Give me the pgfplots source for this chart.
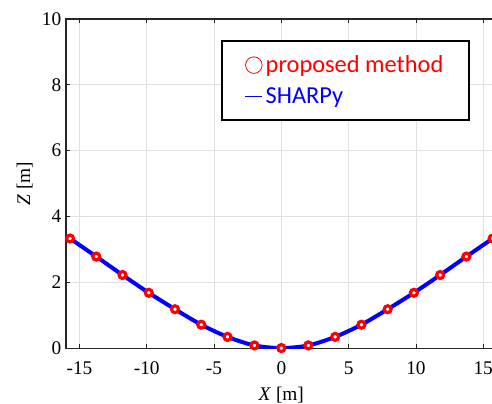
\documentclass[border=0pt]{standalone}
\usepackage{fontspec}
\setmainfont{Liberation Serif}
\newfontfamily\legfont{Carlito}
\usepackage{pgfplots}
\usepackage{pgfplotstable}
\pgfplotsset{compat=1.18}

% sampled shape: x [m], z [m]
\pgfplotstableread{
x      z
-15.7  3.33
-13.75 2.78
-11.8  2.22
-9.85  1.68
-7.9   1.18
-5.95  0.71
-4.0   0.34
-2.0   0.08
0.0    0.00
2.0    0.08
4.0    0.34
5.95   0.71
7.9    1.18
9.85   1.68
11.8   2.22
13.75  2.78
15.7   3.33
}\shape

\begin{document}
\begin{tikzpicture}
\begin{axis}[
name=ax,
scale only axis, width=323pt, height=246.8pt,
xmin=-16, xmax=16, ymin=0, ymax=10,
xtick={-15,-10,-5,0,5,10,15}, xticklabels={-15,-10,-5,0,5,10,15},
ytick={0,2,4,6,8,10}, yticklabels={0,2,4,6,8,10},
tick align=inside, major tick length=3pt,
grid=major, grid style={color=black!12, line width=0.6pt},
axis line style={black!85, line width=0.8pt},
tick style={black!85, line width=0.6pt},
ticklabel style={font=\fontsize{14.5}{17}\selectfont},
xticklabel style={yshift=-7pt},
label style={font=\fontsize{14.5}{17}\selectfont},
xlabel={\textit{X} [m]}, ylabel={\textit{Z} [m]},
xlabel style={yshift=-2pt},
legend style={at={(rel axis cs:0.36,0.936)}, anchor=north west,
  draw=black, line width=1.4pt, fill=white,
  font=\legfont\fontsize{18.3}{21}\selectfont,
  cells={anchor=west}, inner xsep=17pt, inner ysep=9pt, row sep=5.5pt},
]
\addlegendimage{legend image code/.code={\draw[red, line width=0.6pt] (6.4pt,0pt) circle (6.2pt);}}
\addlegendentry[text=red]{proposed method}
\addlegendimage{legend image code/.code={\draw[draw=blue, line width=1pt] (0pt,0pt) -- (12.8pt,0pt);}}
\addlegendentry[text=blue]{SHARPy}
\addplot[blue, line width=3pt, smooth, forget plot] table {\shape};
\addplot[only marks, mark=*, mark size=2.6pt,
  mark options={fill=white, draw=red, line width=2.4pt}, forget plot] table {\shape};
\end{axis}
\pgfresetboundingbox
\path ([shift={(-49.5pt,-41.25pt)}]ax.south west) rectangle ([shift={(319.5pt,14.25pt)}]ax.north west);
\end{tikzpicture}
\end{document}
